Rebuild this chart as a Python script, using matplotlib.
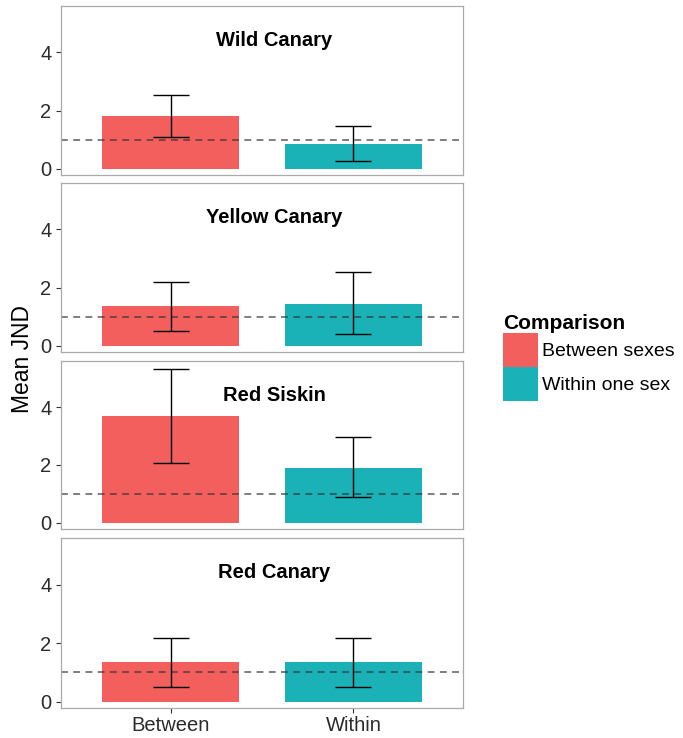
import matplotlib
matplotlib.use("Agg")
import matplotlib.pyplot as plt
from matplotlib.patches import Patch

# data
species = ["Wild Canary", "Yellow Canary", "Red Siskin", "Red Canary"]
groups = ["Between", "Within"]
legend_labels = ["Between sexes", "Within one sex"]
mean_jnd = [[1.82, 0.84], [1.35, 1.45], [3.69, 1.89], [1.34, 1.34]]
err_low = [[1.10, 0.25], [0.49, 0.41], [2.05, 0.90], [0.51, 0.51]]
err_high = [[2.54, 1.48], [2.20, 2.53], [5.33, 2.97], [2.16, 2.16]]
threshold = 1.0

colors = ["#F25F5C", "#1AB2B6"]

plt.rcParams["font.family"] = ["Liberation Sans", "DejaVu Sans"]


def main():
    fig = plt.figure(figsize=(6.83, 7.38), dpi=100)
    W, H = 683.0, 738.0
    # panel boxes (top, bottom) in pixels
    boxes = [(6, 175), (183, 352), (361, 529), (538, 708)]
    left, right = 61, 463

    for i, name in enumerate(species):
        top, bot = boxes[i]
        ax = fig.add_axes([left / W, 1 - bot / H, (right - left) / W, (bot - top) / H])
        x = [1, 2]
        ax.bar(x, mean_jnd[i], width=0.75, color=colors, zorder=1)
        ax.axhline(threshold, color="#333333", lw=1.1, ls=(0, (4.5, 3.5)), alpha=0.8, zorder=2)
        lo = [m - l for m, l in zip(mean_jnd[i], err_low[i])]
        hi = [h - m for m, h in zip(mean_jnd[i], err_high[i])]
        ax.errorbar(x, mean_jnd[i], yerr=[lo, hi], fmt="none", ecolor="black",
                    elinewidth=1.0, capsize=13.3, capthick=1.0, zorder=3)
        ax.set_xlim(0.4, 2.6)
        ax.set_ylim(-0.22, 5.6)
        ax.set_yticks([0, 2, 4])
        ax.text(0.53, 0.762, name, transform=ax.transAxes, ha="center", va="baseline",
                fontsize=14.5, fontweight="bold", color="black")
        for s in ax.spines.values():
            s.set_color("#AAAAAA")
            s.set_linewidth(0.9)
        ax.tick_params(axis="y", labelsize=14.5, length=3.5, color="#333333",
                       labelcolor="#2b2b2b", pad=3.5)
        if i == len(species) - 1:
            ax.set_xticks(x)
            ax.set_xticklabels(groups)
            ax.tick_params(axis="x", labelsize=14.5, length=3.5, color="#333333",
                           labelcolor="#2b2b2b", pad=2)
        else:
            ax.set_xticks([])

    fig.text(22.5 / W, 1 - 359 / H, "Mean JND", rotation=90, ha="center", va="center",
             fontsize=16.5, color="black")

    handles = [Patch(facecolor=c, edgecolor="none") for c in colors]
    fig.legend(handles, legend_labels, title="Comparison", loc="upper left",
               bbox_to_anchor=(503 / W, 1 - 314 / H), frameon=False, fontsize=14,
               title_fontproperties={"weight": "bold", "size": 15},
               handlelength=1.8, handleheight=2.32, handletextpad=0.2,
               labelspacing=0.0, borderaxespad=0, borderpad=0, alignment="left")

    fig.savefig("out.png", dpi=100)


if __name__ == "__main__":
    main()
